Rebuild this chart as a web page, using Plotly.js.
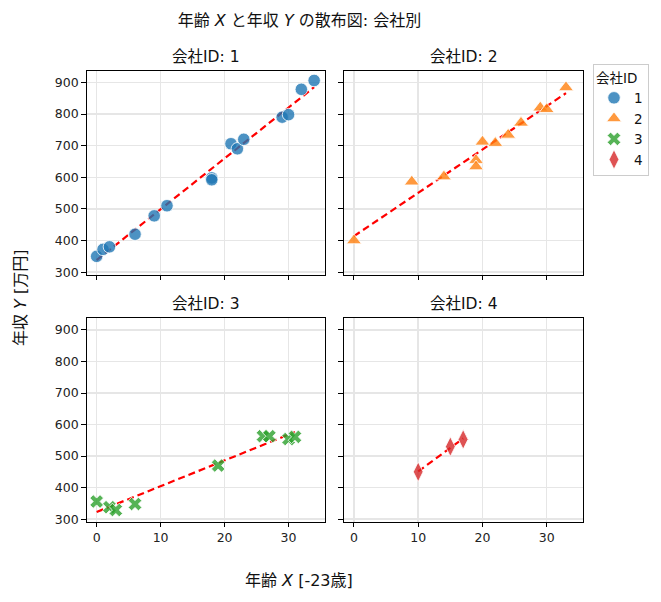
<!DOCTYPE html>
<html>
<head>
<meta charset="utf-8">
<script src="https://cdn.plot.ly/plotly-3.0.1.min.js"></script>
<style>
  html, body { margin: 0; padding: 0; background: #fff; }
  #chart { width: 661px; height: 602px; }
</style>
</head>
<body>
<div id="chart"></div>
<script>
'use strict';

// data: age X (minus 23) and income Y per company
const company1X = [0, 1, 2, 6, 9, 11, 18, 18, 21, 22, 23, 29, 30, 32, 34];
const company1Y = [350, 372, 380, 420, 478, 510, 598, 592, 706, 690, 720, 790, 798, 878, 906];

const company2X = [0, 9, 14, 19, 19, 20, 22, 24, 26, 29, 30, 33];
const company2Y = [400, 586, 602, 654, 634, 712, 708, 734, 772, 820, 815, 884];

const company3X = [0, 2, 3, 6, 19, 26, 27, 30, 31];
const company3Y = [356, 338, 329, 348, 470, 563, 563, 554, 561];

const company4X = [10, 15, 17];
const company4Y = [450, 530, 553];

const companyIds = ['1', '2', '3', '4'];
const xTicks = [0, 10, 20, 30];
const yTicks = [300, 400, 500, 600, 700, 800, 900];

const FONT = '"DejaVu Sans", "Noto Sans CJK JP", sans-serif';

// least squares fit, drawn from min x to max x
function fitLine(xs, ys) {
    const n = xs.length;
    const mx = xs.reduce((a, b) => a + b, 0) / n;
    const my = ys.reduce((a, b) => a + b, 0) / n;
    let sxy = 0, sxx = 0;
    for (let i = 0; i < n; i++) {
        sxy += (xs[i] - mx) * (ys[i] - my);
        sxx += (xs[i] - mx) * (xs[i] - mx);
    }
    const slope = sxy / sxx;
    const x0 = Math.min(...xs), x1 = Math.max(...xs);
    return { x: [x0, x1], y: [my + slope * (x0 - mx), my + slope * (x1 - mx)] };
}

const groups = [
    { id: companyIds[0], x: company1X, y: company1Y, color: 'rgba(31,119,180,0.8)', symbol: 'circle', size: 12.5 },
    { id: companyIds[1], x: company2X, y: company2Y, color: 'rgba(255,127,14,0.8)', symbol: 'triangle-up', size: 13 },
    { id: companyIds[2], x: company3X, y: company3Y, color: 'rgba(44,160,44,0.8)', symbol: 'x', size: 12 },
    { id: companyIds[3], x: company4X, y: company4Y, color: 'rgba(214,39,40,0.8)', symbol: 'diamond-tall', size: 14 }
];

const axisNames = [['x', 'y'], ['x2', 'y2'], ['x3', 'y3'], ['x4', 'y4']];

const traces = [];
groups.forEach((g, i) => {
    const fit = fitLine(g.x, g.y);
    traces.push({
        x: fit.x, y: fit.y,
        xaxis: axisNames[i][0], yaxis: axisNames[i][1],
        mode: 'lines',
        line: { color: 'red', width: 2.2, dash: '7px,4px' },
        showlegend: false, hoverinfo: 'skip'
    });
});
groups.forEach((g, i) => {
    traces.push({
        x: g.x, y: g.y,
        xaxis: axisNames[i][0], yaxis: axisNames[i][1],
        mode: 'markers', type: 'scatter',
        name: g.id,
        marker: { color: g.color, symbol: g.symbol, size: g.size, line: { color: 'white', width: 0.8 } }
    });
});

const xDomains = [[0.1312, 0.4917], [0.5204, 0.8825]];
const yDomains = [[0.5432, 0.8826], [0.1329, 0.4713]];

function xAxis(col, row, anchor) {
    return {
        domain: xDomains[col], anchor: anchor, range: [-1.55, 35.7],
        tickvals: xTicks, showticklabels: row === 1,
        ticks: 'outside', ticklen: 4.5, tickcolor: '#000',
        showline: true, mirror: true, linecolor: '#000', linewidth: 1,
        showgrid: true, gridcolor: '#e6e6e6', gridwidth: 1.4,
        zeroline: false, tickfont: { size: 12.5, color: '#222' }
    };
}
function yAxis(col, row, anchor) {
    return {
        domain: yDomains[row], anchor: anchor, range: [291, 937],
        tickvals: yTicks, showticklabels: col === 0,
        ticks: 'outside', ticklen: 4.5, tickcolor: '#000',
        showline: true, mirror: true, linecolor: '#000', linewidth: 1,
        showgrid: true, gridcolor: '#e6e6e6', gridwidth: 1.4,
        zeroline: false, tickfont: { size: 12.5, color: '#222' }
    };
}

const annotations = [];
groups.forEach((g, i) => {
    const col = i % 2, row = Math.floor(i / 2);
    annotations.push({
        text: '会社ID: ' + g.id,
        xref: 'paper', yref: 'paper',
        x: (xDomains[col][0] + xDomains[col][1]) / 2,
        y: yDomains[row][1] + 0.005,
        xanchor: 'center', yanchor: 'bottom', showarrow: false,
        font: { size: 15.5, color: '#111' }
    });
});
annotations.push({
    text: '年収 <i>Y</i> [万円]', xref: 'paper', yref: 'paper',
    x: 20 / 661, y: 1 - 298 / 602, textangle: -90,
    xanchor: 'center', yanchor: 'middle', showarrow: false,
    font: { size: 16, color: '#111' }
});
annotations.push({
    text: '年齢 <i>X</i> [-23歳]', xref: 'paper', yref: 'paper',
    x: 298.5 / 661, y: 1 - 580 / 602,
    xanchor: 'center', yanchor: 'middle', showarrow: false,
    font: { size: 16, color: '#111' }
});

const layout = {
    width: 661, height: 602,
    margin: { l: 0, r: 0, t: 0, b: 0 },
    paper_bgcolor: '#fff', plot_bgcolor: '#fff',
    font: { family: FONT, color: '#222' },
    title: {
        text: '年齢 <i>X</i> と年収 <i>Y</i> の散布図: 会社別',
        x: 299.5 / 661, xanchor: 'center', y: 1 - 20 / 602, yanchor: 'middle',
        font: { size: 16, color: '#111' }
    },
    xaxis: xAxis(0, 0, 'y'), yaxis: yAxis(0, 0, 'x'),
    xaxis2: xAxis(1, 0, 'y2'), yaxis2: yAxis(1, 0, 'x2'),
    xaxis3: xAxis(0, 1, 'y3'), yaxis3: yAxis(0, 1, 'x3'),
    xaxis4: xAxis(1, 1, 'y4'), yaxis4: yAxis(1, 1, 'x4'),
    annotations: annotations,
    legend: {
        title: { text: '会社ID', font: { size: 13.5, color: '#111' }, side: 'top' },
        x: 593 / 661, y: 1 - 64 / 602, xanchor: 'left', yanchor: 'top',
        bordercolor: '#cccccc', borderwidth: 1, bgcolor: '#fff',
        font: { size: 13.5, color: '#111' },
        itemwidth: 30, tracegroupgap: 0
    },
    showlegend: true
};

Plotly.newPlot('chart', traces, layout, { displayModeBar: false, staticPlot: true });
</script>
</body>
</html>
